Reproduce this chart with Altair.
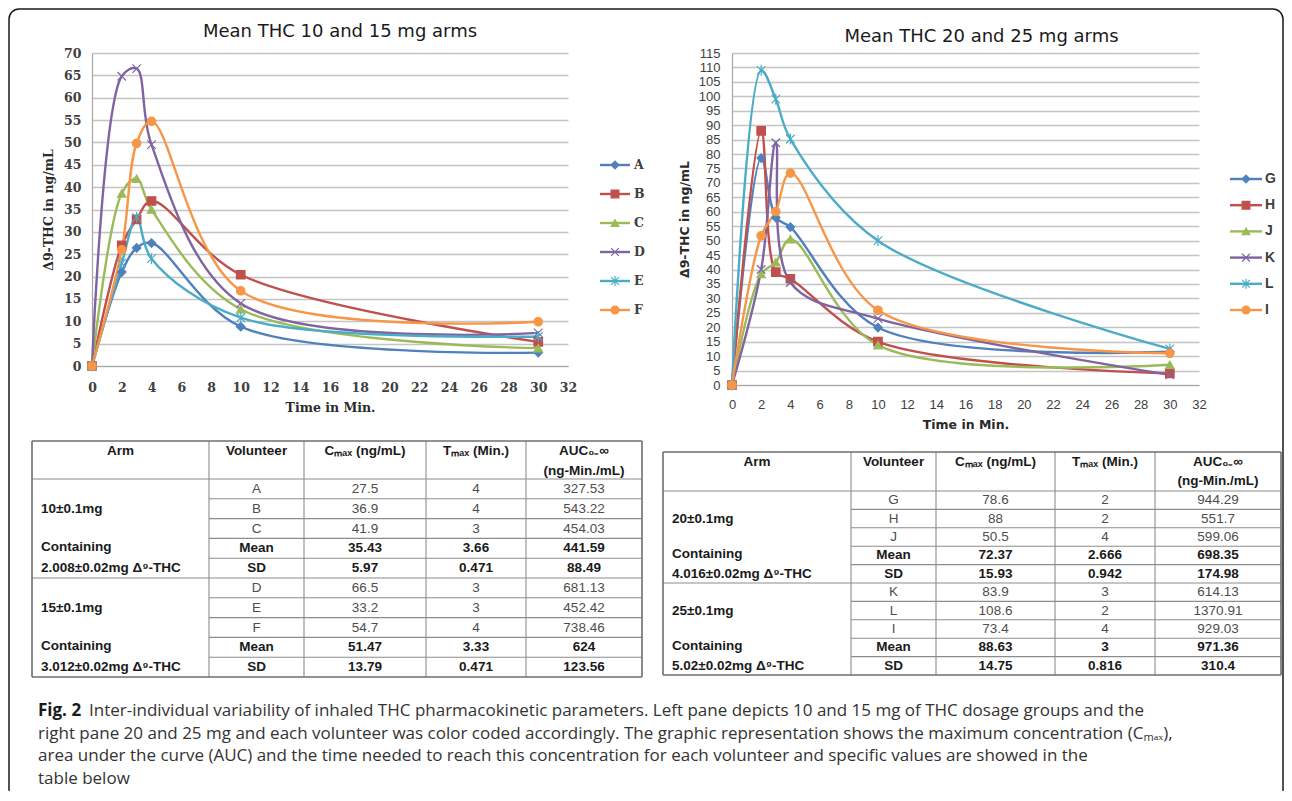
import altair as alt
import pandas as pd

# ---------------- data ----------------
times = [0, 2, 3, 4, 10, 30]

left_volunteers = ["A", "B", "C", "D", "E", "F"]
conc_A = [0, 21.0, 26.4, 27.5, 8.8, 3.0]
conc_B = [0, 27.0, 32.8, 36.9, 20.4, 5.4]
conc_C = [0, 38.6, 41.9, 35.0, 12.7, 4.0]
conc_D = [0, 64.8, 66.5, 49.5, 14.0, 7.4]
conc_E = [0, 23.0, 33.2, 24.0, 10.8, 6.6]
conc_F = [0, 26.0, 49.8, 54.7, 16.8, 9.9]

right_volunteers = ["G", "H", "J", "K", "L", "I"]
conc_G = [0, 78.6, 58.0, 54.7, 19.9, 11.5]
conc_H = [0, 88.0, 39.1, 36.8, 15.0, 4.0]
conc_J = [0, 38.5, 42.5, 50.5, 13.8, 7.0]
conc_K = [0, 40.0, 83.9, 35.5, 23.0, 3.5]
conc_L = [0, 109.0, 99.0, 85.2, 50.0, 12.5]
conc_I = [0, 51.7, 60.1, 73.4, 25.9, 11.0]

header = ["Arm", "Volunteer", "C\u2098\u2090\u2093 (ng/mL)", "T\u2098\u2090\u2093 (Min.)", "AUC\u2080\u208b\u221e"]
header_line2 = "(ng-Min./mL)"

left_table_vol = ["A", "B", "C", "Mean", "SD", "D", "E", "F", "Mean", "SD"]
left_cmax = ["27.5", "36.9", "41.9", "35.43", "5.97", "66.5", "33.2", "54.7", "51.47", "13.79"]
left_tmax = ["4", "4", "3", "3.66", "0.471", "3", "3", "4", "3.33", "0.471"]
left_auc = ["327.53", "543.22", "454.03", "441.59", "88.49", "681.13", "452.42", "738.46", "624", "123.56"]
left_arm_dose = ["10\u00b10.1mg", "15\u00b10.1mg"]
left_arm_thc = ["2.008\u00b10.02mg \u0394\u2079-THC", "3.012\u00b10.02mg \u0394\u2079-THC"]

right_table_vol = ["G", "H", "J", "Mean", "SD", "K", "L", "I", "Mean", "SD"]
right_cmax = ["78.6", "88", "50.5", "72.37", "15.93", "83.9", "108.6", "73.4", "88.63", "14.75"]
right_tmax = ["2", "2", "4", "2.666", "0.942", "3", "2", "4", "3", "0.816"]
right_auc = ["944.29", "551.7", "599.06", "698.35", "174.98", "614.13", "1370.91", "929.03", "971.36", "310.4"]
right_arm_dose = ["20\u00b10.1mg", "25\u00b10.1mg"]
right_arm_thc = ["4.016\u00b10.02mg \u0394\u2079-THC", "5.02\u00b10.02mg \u0394\u2079-THC"]

caption_lead = "Fig. 2"
caption_lines = [
    "Inter-individual variability of inhaled THC pharmacokinetic parameters. Left pane depicts 10 and 15 mg of THC dosage groups and the",
    "right pane 20 and 25 mg and each volunteer was color coded accordingly. The graphic representation shows the maximum concentration (C\u2098\u2090\u2093),",
    "area under the curve (AUC) and the time needed to reach this concentration for each volunteer and specific values are showed in the",
    "table below",
]

# ---------------- styles ----------------
palette = ["#4F81BD", "#C0504D", "#9BBB59", "#8064A2", "#4BACC6", "#F79646"]
shapes = ["diamond", "square", "triangle-up",
          "M-1,-1L1,1M-1,1L1,-1",
          "M-1,-1L1,1M-1,1L1,-1M0,-1.3L0,1.3",
          "circle"]


def long_df(vols, series):
    rows = []
    for v, s in zip(vols, series):
        for t, c in zip(times, s):
            rows.append({"vol": v, "t": t, "c": c})
    return pd.DataFrame(rows)


def pk_chart(df, vols, ymax, width, height, title, title_dx, title_offset,
             tick_font, tick_weight, tick_size, ax_title_font, ax_title_size,
             xlab_pad, xtitle_pad, ylab_pad, ytitle_pad,
             leg_x0, leg_x1, leg_xm, leg_tx, leg_y0, leg_y1,
             leg_font, leg_size, leg_weight):
    color = alt.Color("vol:N", scale=alt.Scale(domain=vols, range=palette), legend=None)
    stroke = alt.Stroke("vol:N", scale=alt.Scale(domain=vols, range=palette), legend=None)
    shape = alt.Shape("vol:N", scale=alt.Scale(domain=vols, range=shapes), legend=None)
    common_axis = dict(ticks=False, domainColor="#a6a6a6", domainWidth=1.2,
                       labelFont=tick_font, labelFontWeight=tick_weight,
                       labelFontSize=tick_size, labelColor="#404040",
                       titleFont=ax_title_font, titleFontSize=ax_title_size,
                       titleFontWeight="bold", titleColor="#2a2a2a",
                       labelOverlap=False)
    x = alt.X("t:Q", scale=alt.Scale(domain=[0, 32], nice=False),
              axis=alt.Axis(values=list(range(0, 33, 2)), title="Time in Min.", grid=False,
                            labelFlush=False, labelPadding=xlab_pad, titlePadding=xtitle_pad,
                            **common_axis))
    y = alt.Y("c:Q", scale=alt.Scale(domain=[0, ymax], nice=False),
              axis=alt.Axis(values=list(range(0, ymax + 1, 5)), title="\u03949-THC in ng/mL",
                            grid=True, gridColor="#c4c4c4", gridWidth=1.5,
                            labelPadding=ylab_pad, titlePadding=ytitle_pad, **common_axis))
    lines = alt.Chart(df).mark_line(interpolate="catmull-rom", strokeWidth=2.4).encode(
        x=x, y=y, color=color, detail="vol:N")
    pts = alt.Chart(df).mark_point(filled=True, size=72, strokeWidth=1.2, opacity=1).encode(
        x=x, y=y, color=color, stroke=stroke, shape=shape)
    main = alt.layer(lines, pts)

    leg_df = pd.DataFrame({"vol": vols})
    ly = alt.Y("vol:N", scale=alt.Scale(type="point", domain=vols, range=[leg_y0, leg_y1], padding=0),
               axis=None)
    leg_rule = alt.Chart(leg_df).mark_rule(strokeWidth=2.4).encode(
        x=alt.value(leg_x0), x2=alt.value(leg_x1), y=ly, color=color)
    leg_pt = alt.Chart(leg_df).mark_point(filled=True, size=60, strokeWidth=1.2, opacity=1).encode(
        x=alt.value(leg_xm), y=ly, color=color, stroke=stroke, shape=shape)
    leg_txt = alt.Chart(leg_df).mark_text(align="left", baseline="middle", font=leg_font,
                                          fontSize=leg_size, fontWeight=leg_weight,
                                          color="#404040").encode(
        x=alt.value(leg_tx), y=ly, text="vol:N")
    leg = alt.layer(leg_rule, leg_pt, leg_txt)

    return alt.layer(main, leg).resolve_scale(y="independent").properties(
        width=width, height=height,
        title=alt.Title(title, font="DejaVu Sans", fontSize=18, fontWeight="normal",
                        color="#1a1a1a", anchor="middle", dx=title_dx, offset=title_offset,
                        baseline="bottom", frame="group"))


def table_chart(vol, cmax, tmax, auc, doses, thcs, edges, hdr_h, row_h,
                hdr_y1, hdr_y2, x_off, y_off, width, height, fsize):
    centers = [(edges[i] + edges[i + 1]) / 2 for i in range(5)]
    total_h = hdr_h + 10 * row_h
    W = edges[-1]
    cells = []
    for i, h in enumerate(header):
        cells.append(dict(x=centers[i], y=hdr_y1, text=h, kind="hdr"))
    cells.append(dict(x=centers[4], y=hdr_y2, text=header_line2, kind="hdr"))
    for r in range(10):
        yc = hdr_h + (r + 0.5) * row_h
        k = "bold" if vol[r] in ("Mean", "SD") else "norm"
        for ci, val in zip(range(1, 5), [vol[r], cmax[r], tmax[r], auc[r]]):
            cells.append(dict(x=centers[ci], y=yc, text=val, kind=k))
    for g in range(2):
        b = g * 5
        cells.append(dict(x=9, y=hdr_h + (b + 1.5) * row_h, text=doses[g], kind="arm"))
        cells.append(dict(x=9, y=hdr_h + (b + 3.5) * row_h - 1, text="Containing", kind="arm"))
        cells.append(dict(x=9, y=hdr_h + (b + 4.5) * row_h, text=thcs[g], kind="arm"))
    cells = pd.DataFrame(cells)

    rules = [dict(x=0, x2=W, y=0, y2=0, kind="outer"),
             dict(x=0, x2=W, y=total_h, y2=total_h, kind="outer"),
             dict(x=0, x2=0, y=0, y2=total_h, kind="outer"),
             dict(x=W, x2=W, y=0, y2=total_h, kind="outer")]
    for e in edges[1:-1]:
        rules.append(dict(x=e, x2=e, y=0, y2=total_h, kind="inner"))
    rules.append(dict(x=0, x2=W, y=hdr_h, y2=hdr_h, kind="inner"))
    for r in range(1, 10):
        yy = hdr_h + r * row_h
        rules.append(dict(x=0 if r == 5 else edges[1], x2=W, y=yy, y2=yy, kind="inner"))
    rules = pd.DataFrame(rules)

    xs = alt.Scale(domain=[0, W], range=[x_off, x_off + W], nice=False, zero=False)
    ys = alt.Scale(domain=[0, total_h], range=[y_off, y_off + total_h], nice=False, zero=False)
    X = alt.X("x:Q", scale=xs, axis=None)
    Y = alt.Y("y:Q", scale=ys, axis=None)

    def rule_layer(kind, color, sw):
        return alt.Chart(rules).transform_filter(alt.datum.kind == kind).mark_rule(
            color=color, strokeWidth=sw).encode(x=X, x2="x2:Q", y=Y, y2="y2:Q")

    def text_layer(kind, weight, color, align):
        return alt.Chart(cells).transform_filter(alt.datum.kind == kind).mark_text(
            font="Liberation Sans", fontSize=fsize, fontWeight=weight, color=color,
            align=align, baseline="middle").encode(x=X, y=Y, text="text:N")

    return alt.layer(
        rule_layer("inner", "#8c8c8c", 1.1),
        rule_layer("outer", "#6e6e6e", 1.6),
        text_layer("hdr", "bold", "#1a1a1a", "center"),
        text_layer("norm", "normal", "#4d4d4d", "center"),
        text_layer("bold", "bold", "#1a1a1a", "center"),
        text_layer("arm", "bold", "#1a1a1a", "left"),
    ).properties(width=width, height=height)


# ---------------- charts ----------------
df_left = long_df(left_volunteers, [conc_A, conc_B, conc_C, conc_D, conc_E, conc_F])
df_right = long_df(right_volunteers, [conc_G, conc_H, conc_J, conc_K, conc_L, conc_I])

chart_left = pk_chart(df_left, left_volunteers, 70, 476, 313, "Mean THC 10 and 15 mg arms", 10, -12,
                      "DejaVu Serif", "bold", 12.5, "DejaVu Serif", 12.5,
                      15, 8, 11, 8,
                      508, 538, 523, 542, 112, 257,
                      "DejaVu Serif", 12.5, "bold")
chart_right = pk_chart(df_right, right_volunteers, 115, 467, 332, "Mean THC 20 and 25 mg arms", 16, -17,
                       "Liberation Sans", "normal", 13, "DejaVu Sans", 12.5,
                       13, 7, 12, 7,
                       498, 530, 514, 533, 126, 257,
                       "Liberation Sans", 14, "bold")

table_left = table_chart(left_table_vol, left_cmax, left_tmax, left_auc, left_arm_dose, left_arm_thc,
                         [0, 177, 272, 394, 494, 610], 38, 19.8, 10, 30, -60, 0, 476, 236, 13.5)
table_right = table_chart(right_table_vol, right_cmax, right_tmax, right_auc, right_arm_dose, right_arm_thc,
                          [0, 188, 273, 392, 492, 618], 39, 18.4, 10, 29, -69, 11, 467, 236, 13.5)

one = pd.DataFrame({"k": [0]})
frame = alt.Chart(one).mark_rect(fillOpacity=0, stroke="#1a1a1a", strokeWidth=1.5,
                                 cornerRadiusTopLeft=10, cornerRadiusTopRight=10).encode(
    x=alt.value(-83), x2=alt.value(1191), y=alt.value(-724), y2=alt.value(57))
cover = alt.Chart(one).mark_rule(color="white", strokeWidth=3).encode(
    x=alt.value(-82.1), x2=alt.value(1190.1), y=alt.value(57))
cap_y = alt.Y("line:Q", scale=alt.Scale(domain=[0, 3], range=[-22, 46], nice=False, zero=False), axis=None)
cap_lead_df = pd.DataFrame({"line": [0], "text": [caption_lead]})
cap_first_df = pd.DataFrame({"line": [0], "text": [caption_lines[0]]})
cap_rest_df = pd.DataFrame({"line": [1, 2, 3], "text": caption_lines[1:]})
cap_font = dict(font="Open Sans", fontSize=17, align="left", baseline="middle")
t_lead = alt.Chart(cap_lead_df).mark_text(fontWeight="bold", color="#1a1a1a", **cap_font).encode(
    x=alt.value(-54), y=cap_y, text="text:N")
t_first = alt.Chart(cap_first_df).mark_text(color="#333333", **cap_font).encode(
    x=alt.value(-3), y=cap_y, text="text:N")
t_rest = alt.Chart(cap_rest_df).mark_text(color="#333333", **cap_font).encode(
    x=alt.value(-54), y=cap_y, text="text:N")
caption = alt.layer(frame, cover, t_lead, t_first, t_rest).properties(width=476, height=40)

chart = alt.concat(chart_left, chart_right, table_left, table_right, caption,
                   columns=2, spacing={"row": 56, "column": 164}, bounds="flush").properties(
    padding={"left": 0, "top": 0, "right": 0, "bottom": 0},
    background="white",
).configure_view(stroke=None)

chart.save("out.html", embed_options={"renderer": "svg", "actions": False})
